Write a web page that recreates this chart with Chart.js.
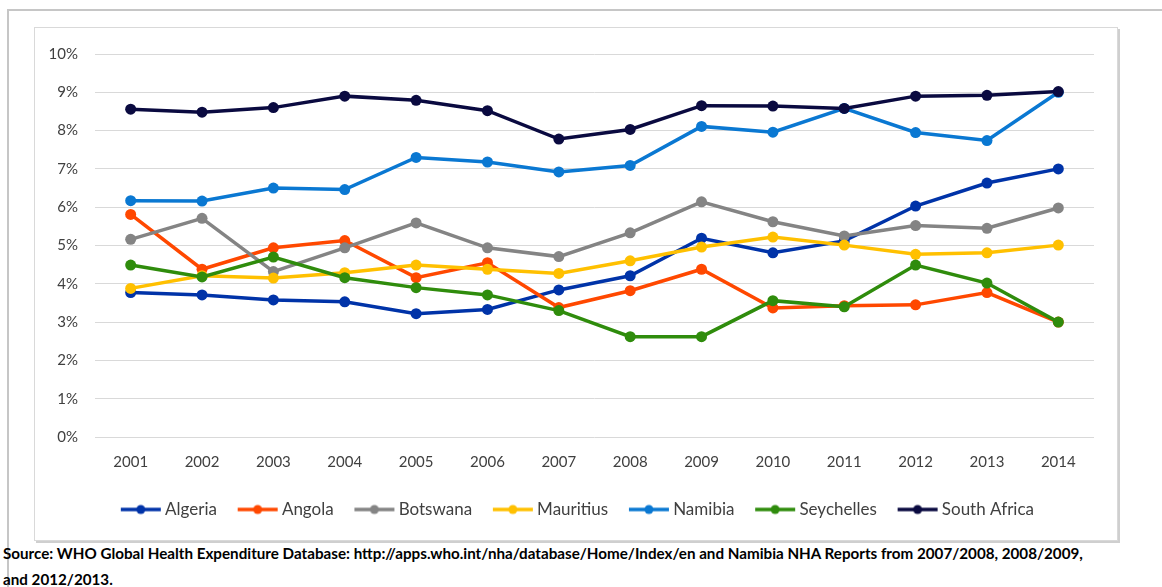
<!DOCTYPE html>
<html>
<head>
<meta charset="utf-8">
<script src="https://cdn.jsdelivr.net/npm/chart.js@4.4.0/dist/chart.umd.min.js"></script>
<style>
  html, body { margin: 0; padding: 0; background: #fff; }
  body { width: 1162px; height: 587px; position: relative; overflow: hidden; }
  #outer { position: absolute; left: 7px; top: 9px; width: 1200px; height: 700px; border: 2px solid #c6c6c6; }
  #box { position: absolute; left: 34px; top: 27px; width: 1082px; height: 512px; border: 1px solid #d9d9d9; box-shadow: 2px 2px 0 #cfcfcf; background: #fff; }
  #box canvas { position: absolute; left: 0; top: 0; }
  #source { position: absolute; left: 3px; top: 541px; font-family: Lato, "Open Sans", sans-serif; font-weight: bold; font-size: 15.2px; line-height: 25.5px; color: #000; white-space: nowrap; }
</style>
</head>
<body>
<div id="outer"></div>
<div id="box"><canvas id="chart" width="1082" height="512"></canvas></div>
<div id="source">Source: WHO Global Health Expenditure Database: http://apps.who.int/nha/database/Home/Index/en and Namibia NHA Reports from 2007/2008, 2008/2009,<br>and 2012/2013.</div>
<script>
// Años y series (% del PIB)
const years = ['2001','2002','2003','2004','2005','2006','2007','2008','2009','2010','2011','2012','2013','2014'];
const countries = ['Algeria','Angola','Botswana','Mauritius','Namibia','Seychelles','South Africa'];
const colors = ['#0033a8','#ff4800','#848484','#ffc000','#0a78d2','#2f8c0c','#0a0a40'];

const algeria     = [3.77, 3.71, 3.58, 3.53, 3.22, 3.33, 3.84, 4.21, 5.19, 4.81, 5.12, 6.03, 6.63, 7.00];
const angola      = [5.81, 4.38, 4.94, 5.13, 4.16, 4.55, 3.38, 3.82, 4.38, 3.37, 3.43, 3.45, 3.77, 3.00];
const botswana    = [5.16, 5.71, 4.32, 4.94, 5.59, 4.94, 4.71, 5.33, 6.14, 5.62, 5.25, 5.52, 5.45, 5.98];
const mauritius   = [3.88, 4.21, 4.15, 4.29, 4.49, 4.38, 4.27, 4.60, 4.96, 5.22, 5.01, 4.77, 4.81, 5.01];
const namibia     = [6.17, 6.16, 6.50, 6.46, 7.30, 7.18, 6.92, 7.09, 8.11, 7.96, 8.58, 7.95, 7.74, 9.00];
const seychelles  = [4.49, 4.18, 4.70, 4.16, 3.90, 3.71, 3.30, 2.62, 2.62, 3.56, 3.40, 4.49, 4.02, 3.00];
const southAfrica = [8.56, 8.48, 8.60, 8.90, 8.79, 8.52, 7.78, 8.03, 8.65, 8.64, 8.58, 8.90, 8.92, 9.02];

const series = [algeria, angola, botswana, mauritius, namibia, seychelles, southAfrica];
const yTicks = [0, 1, 2, 3, 4, 5, 6, 7, 8, 9, 10];

const FONT = 'Lato, "Open Sans", sans-serif';

// Marcador de leyenda: línea con punto
function legendMark(color) {
  const c = document.createElement('canvas');
  c.width = 42; c.height = 12;
  const g = c.getContext('2d');
  g.strokeStyle = color; g.lineWidth = 3.5;
  g.beginPath(); g.moveTo(1, 6); g.lineTo(41, 6); g.stroke();
  g.fillStyle = color;
  g.beginPath(); g.arc(21, 6, 4.5, 0, Math.PI * 2); g.fill();
  return c;
}
const marks = colors.map(legendMark);

const datasets = countries.map((name, i) => ({
  label: name,
  data: series[i],
  borderColor: colors[i],
  backgroundColor: colors[i],
  borderWidth: 3.5,
  pointRadius: 5.5,
  pointBorderWidth: 0,
  pointBackgroundColor: colors[i],
  tension: 0,
  order: countries.length - 1 - i
}));

// corre la leyenda un poco a la derecha, como en el original
const shiftLegend = {
  id: 'shiftLegend',
  afterLayout(chart) {
    if (chart.legend) { chart.legend.left += 15; chart.legend.right += 15; }
  }
};

new Chart(document.getElementById('chart'), {
  type: 'line',
  data: { labels: years, datasets },
  plugins: [shiftLegend],
  options: {
    responsive: false,
    animation: false,
    layout: { padding: { top: 22, right: 23, left: 0, bottom: 12 } },
    plugins: {
      tooltip: { enabled: false },
      legend: {
        position: 'bottom',
        labels: {
          usePointStyle: true,
          pointStyleWidth: 31.5,
          padding: 25,
          color: '#404040',
          font: { family: FONT, size: 17 },
          sort: (a, b) => a.datasetIndex - b.datasetIndex,
          generateLabels: chart => {
            const items = Chart.defaults.plugins.legend.labels.generateLabels(chart);
            items.forEach(it => { it.pointStyle = marks[it.datasetIndex]; });
            return items;
          }
        }
      }
    },
    scales: {
      x: {
        offset: true,
        grid: { display: false, drawTicks: false },
        border: { display: false },
        ticks: { color: '#404040', font: { family: FONT, size: 15 }, padding: 16, maxRotation: 0 },
        afterFit: s => { s.height = 39; }
      },
      y: {
        min: 0,
        max: 10,
        afterBuildTicks: s => { s.ticks = yTicks.map(v => ({ value: v })); },
        grid: { color: '#d9d9d9', lineWidth: 1, drawTicks: false },
        border: { display: false },
        ticks: { color: '#404040', font: { family: FONT, size: 15 }, padding: 17, callback: v => v + '%' },
        afterFit: s => { s.width = 60; }
      }
    }
  }
});
</script>
</body>
</html>
